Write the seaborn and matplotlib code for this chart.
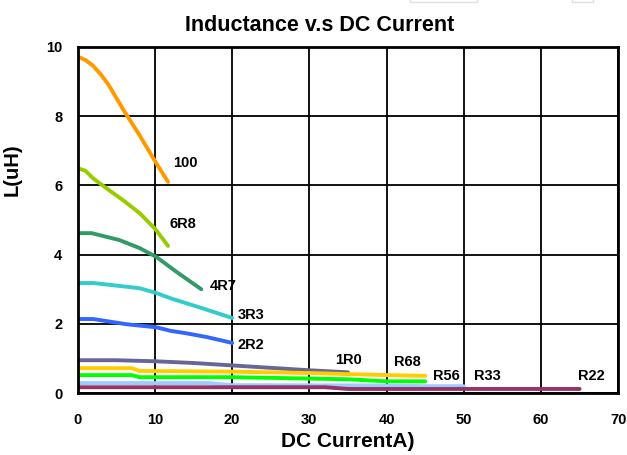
import pandas as pd
import seaborn as sns
import matplotlib.pyplot as plt
from matplotlib.patches import Rectangle

# inductance curves
names = ["100", "6R8", "4R7", "3R3", "2R2", "1R0", "R68", "R56", "R33", "R22"]
colors = ["#FF9900", "#99CC00", "#339966", "#33CCCC", "#3366FF",
          "#666699", "#FFCC00", "#00FF00", "#99CCFF", "#993366"]

x_100 = [0, 1, 2, 3, 4, 6, 8, 10, 11.7]
y_100 = [9.72, 9.62, 9.45, 9.2, 8.9, 8.15, 7.45, 6.7, 6.1]
x_6r8 = [0, 1, 2, 4, 6, 8, 10, 11.7]
y_6r8 = [6.5, 6.42, 6.2, 5.87, 5.55, 5.2, 4.75, 4.25]
x_4r7 = [0, 1.8, 5.4, 8, 10.2, 12.8, 16]
y_4r7 = [4.62, 4.62, 4.42, 4.19, 3.93, 3.5, 3.0]
x_3r3 = [0, 2, 8, 10.2, 12, 16, 20]
y_3r3 = [3.18, 3.18, 3.03, 2.89, 2.74, 2.46, 2.17]
x_2r2 = [0, 2, 6.3, 10.2, 12, 14, 16.7, 20]
y_2r2 = [2.14, 2.14, 1.99, 1.9, 1.8, 1.73, 1.62, 1.45]
x_1r0 = [0, 5, 10, 15, 20, 25, 30, 35]
y_1r0 = [0.95, 0.95, 0.92, 0.87, 0.8, 0.73, 0.66, 0.6]
x_r68 = [0, 7, 8, 20, 30, 40, 45]
y_r68 = [0.72, 0.72, 0.64, 0.62, 0.58, 0.52, 0.5]
x_r56 = [0, 7, 8, 20, 25, 35, 40, 45]
y_r56 = [0.52, 0.52, 0.46, 0.46, 0.44, 0.4, 0.34, 0.34]
x_r33 = [0, 17, 20, 40, 45, 50]
y_r33 = [0.29, 0.29, 0.23, 0.22, 0.2, 0.2]
x_r22 = [0, 32, 35, 65]
y_r22 = [0.17, 0.17, 0.12, 0.12]

xs = [x_100, x_6r8, x_4r7, x_3r3, x_2r2, x_1r0, x_r68, x_r56, x_r33, x_r22]
ys = [y_100, y_6r8, y_4r7, y_3r3, y_2r2, y_1r0, y_r68, y_r56, y_r33, y_r22]

# where the part names sit
label_x = [13.9, 13.6, 18.8, 22.4, 22.4, 35.1, 42.7, 47.7, 53.0, 66.5]
label_y = [6.65, 4.88, 3.09, 2.25, 1.39, 0.95, 0.9, 0.49, 0.49, 0.49]

df = pd.concat([pd.DataFrame({"I": x, "L": y, "part": n})
                for n, x, y in zip(names, xs, ys)], ignore_index=True)

sns.set_style("white")
plt.rcParams["font.family"] = ["Liberation Sans", "DejaVu Sans"]
plt.rcParams["text.color"] = "black"
plt.rcParams["axes.labelcolor"] = "black"
plt.rcParams["xtick.color"] = "black"
plt.rcParams["ytick.color"] = "black"

fig = plt.figure(figsize=(6.27, 4.55), dpi=100)
ax = fig.add_axes([0.124, 0.136, 0.862, 0.761])

sns.lineplot(data=df, x="I", y="L", hue="part", palette=dict(zip(names, colors)),
             sort=False, estimator=None, linewidth=2.8, legend=False, ax=ax)

for n, lx, ly in zip(names, label_x, label_y):
    ax.text(lx, ly, n, fontsize=10.5, fontweight="bold", ha="center", va="center")

ax.set_xlim(0, 70)
ax.set_ylim(0, 10)
ax.set_xticks(range(0, 71, 10))
ax.set_yticks(range(0, 11, 2))
ax.grid(True, color="black", linewidth=1.3)
ax.set_axisbelow(True)
for s in ax.spines.values():
    s.set_color("black")
    s.set_linewidth(2)
ax.tick_params(length=0, labelsize=10.5)
ax.tick_params(axis="x", pad=14)
ax.tick_params(axis="y", pad=11)
for t in ax.get_xticklabels() + ax.get_yticklabels():
    t.set_fontweight("bold")

ax.set_xlabel("DC CurrentA)", fontsize=15, fontweight="bold", labelpad=4)
ax.set_ylabel("L(uH)", fontsize=14.5, fontweight="bold")
ax.yaxis.set_label_coords(-0.104, 0.645)
fig.text(0.509, 0.968, "Inductance v.s DC Current", fontsize=15.5, fontweight="bold",
         ha="center", va="top")

# faint boxes cut off at the top edge of the source image
for x0, w in [(410, 67), (572, 21)]:
    fig.add_artist(Rectangle((x0 / 627, 453 / 455), w / 627, 4 / 455,
                             transform=fig.transFigure, facecolor="white",
                             edgecolor="#E0E0E0", linewidth=1))

fig.savefig("out.png", dpi=100)
